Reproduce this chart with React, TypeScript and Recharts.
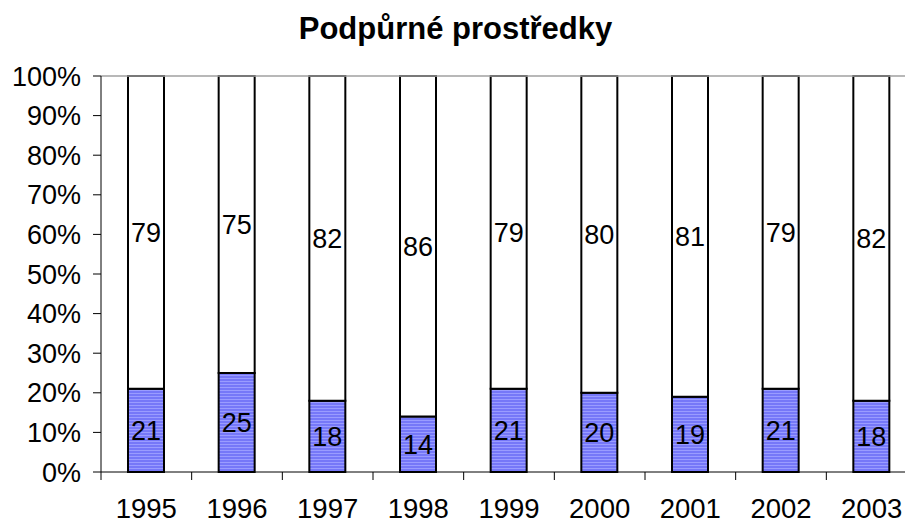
import React from "react";
import { BarChart, Bar, XAxis, YAxis, LabelList, ReferenceLine } from "recharts";

const years = ["1995", "1996", "1997", "1998", "1999", "2000", "2001", "2002", "2003"];
const lower = [21, 25, 18, 14, 21, 20, 19, 21, 18];
const upper = [79, 75, 82, 86, 79, 80, 81, 79, 82];
const yTicks = [0, 10, 20, 30, 40, 50, 60, 70, 80, 90, 100];
const title = "Podpůrné prostředky";

const data = years.map((y, i) => ({ year: y, lower: lower[i], upper: upper[i] }));

const FONT = "'Liberation Sans', Arial, sans-serif";
const W = 905;
const H = 524;
const BAND = (W + 12 - 101) / years.length;

const XTick = (props: any) => {
  const { x, y, payload } = props;
  const lx = x - BAND / 2;
  const ay = y - 8;
  return (
    <g>
      <line x1={lx} y1={ay} x2={lx} y2={ay + 8} stroke="#000" strokeWidth={1} />
      <text x={x} y={ay + 46} textAnchor="middle" fontSize={27.5} fontFamily={FONT} fill="#000">
        {payload.value}
      </text>
    </g>
  );
};

export default function App() {
  return (
    <div style={{ position: "absolute", left: 0, top: 0, width: W, height: H, overflow: "hidden", background: "#fff" }}>
      <div
        style={{
          position: "absolute",
          left: 0,
          top: 12.5,
          width: 911,
          textAlign: "center",
          fontFamily: FONT,
          fontWeight: "bold",
          fontSize: 31,
          lineHeight: "31px",
          color: "#000",
        }}
      >
        {title}
      </div>
      <BarChart
        width={W}
        height={H}
        data={data}
        margin={{ top: 76, right: -12, bottom: 0, left: 0 }}
        barCategoryGap={0}
      >
        <defs>
          <pattern id="stripes" x="0" y="0" width="6" height="3" patternUnits="userSpaceOnUse">
            <rect x="0" y="0" width="6" height="3" fill="#7678f8" />
            <rect x="0" y="0" width="6" height="1" fill="#9a9cff" />
          </pattern>
        </defs>
        <ReferenceLine y={100} stroke="#a0a0a0" strokeWidth={1.5} />
        <XAxis
          dataKey="year"
          axisLine={{ stroke: "#000", strokeWidth: 1 }}
          tickLine={false}
          tick={<XTick />}
          height={52}
          interval={0}
        />
        <YAxis
          domain={[0, 100]}
          ticks={yTicks}
          interval={0}
          width={101}
          tickFormatter={(v: number) => `${v}%`}
          axisLine={{ stroke: "#000", strokeWidth: 1 }}
          tickLine={{ stroke: "#000", strokeWidth: 1 }}
          tickSize={8}
          tickMargin={12}
          tick={{ fontSize: 27, fontFamily: FONT, fill: "#000" }}
        />
        <Bar dataKey="lower" stackId="a" barSize={36} fill="url(#stripes)" stroke="#000" strokeWidth={2} isAnimationActive={false}>
          <LabelList dataKey="lower" position="center" fontSize={27} fontFamily={FONT} fill="#000" />
        </Bar>
        <Bar dataKey="upper" stackId="a" barSize={36} fill="#fff" stroke="#000" strokeWidth={2} isAnimationActive={false}>
          <LabelList dataKey="upper" position="center" fontSize={27} fontFamily={FONT} fill="#000" />
        </Bar>
      </BarChart>
    </div>
  );
}
